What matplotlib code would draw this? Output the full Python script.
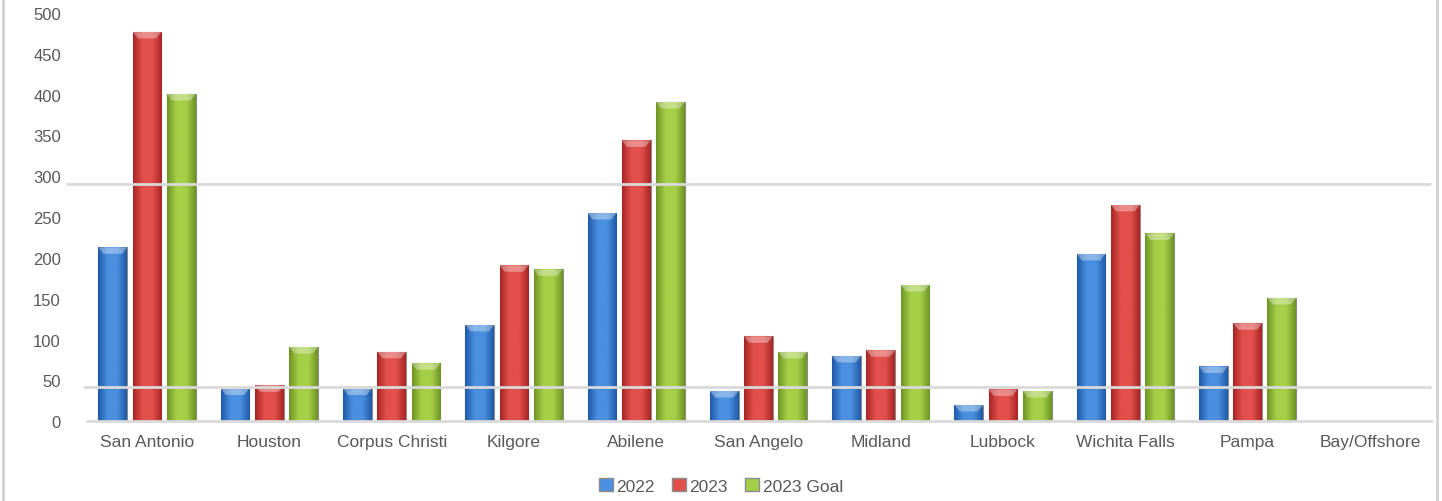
import numpy as np
import matplotlib.pyplot as plt
from matplotlib.colors import LinearSegmentedColormap
from matplotlib.lines import Line2D
from matplotlib.patches import Patch

plt.rcParams["font.family"] = ["Liberation Sans", "DejaVu Sans"]

# data
districts = ["San Antonio", "Houston", "Corpus Christi", "Kilgore", "Abilene", "San Angelo",
             "Midland", "Lubbock", "Wichita Falls", "Pampa", "Bay/Offshore"]
y2022 = [213, 40, 40, 118, 255, 37, 80, 20, 205, 67, 0]
y2023 = [477, 44, 85, 191, 344, 104, 87, 39, 265, 120, 0]
goal2023 = [401, 91, 71, 186, 391, 85, 167, 37, 230, 151, 0]
series_names = ["2022", "2023", "2023 Goal"]
yticks = [0, 50, 100, 150, 200, 250, 300, 350, 400, 450, 500]
grid_vals = [290, 42]  # the two stray grid lines in the original

colors = [("#1f5aa8", "#4a8fe0", "#1b4f96"),
          ("#a82624", "#e2504c", "#9a2220"),
          ("#6f9424", "#a6cf48", "#65881f")]

fig = plt.figure(figsize=(14.42, 5.02), dpi=100)
ax = fig.add_axes([0.0596, 0.159, 0.9328, 0.813])

x = np.arange(len(districts))
w = 0.235
step = 0.28
series = [y2022, y2023, goal2023]
for i, vals in enumerate(series):
    dark, light, edge = colors[i]
    cmap = LinearSegmentedColormap.from_list("g", [dark, light, light, dark])
    bars = ax.bar(x + (i - 1) * step, vals, width=w, color=light, edgecolor="#8c8c8c",
                  linewidth=0.8, zorder=3)
    grad = np.linspace(0, 1, 64).reshape(1, -1)
    for b in bars:
        if b.get_height() <= 0:
            continue
        x0, h = b.get_x(), b.get_height()
        im = ax.imshow(grad, cmap=cmap, aspect="auto", extent=[x0, x0 + w, 0, h],
                       zorder=3.5, interpolation="bicubic")
        im.set_clip_path(b)
        # light cap on top of each bar
        ax.fill([x0, x0 + w, x0 + w * 0.82, x0 + w * 0.18], [h, h, h - 8, h - 8],
                color="white", alpha=0.35, lw=0, zorder=4)

ax.set_xlim(-0.5, 10.5)
ax.set_ylim(0, 500)
ax.hlines(grid_vals[0], -0.66, 10.5, color="#d9d9d9", lw=2, zorder=5, clip_on=False)
ax.hlines(grid_vals[1], -0.52, 10.5, color="#d9d9d9", lw=2, zorder=5, clip_on=False)
ax.hlines(0, -0.5, 10.52, color="#d9d9d9", lw=2, zorder=5, clip_on=False)

for s in ax.spines.values():
    s.set_visible(False)
ax.set_yticks(yticks)
ax.set_yticklabels([str(v) for v in yticks])
ax.set_xticks(x)
ax.set_xticklabels(districts)
ax.tick_params(axis="y", length=0, labelsize=12, colors="#595959", pad=18)
ax.tick_params(axis="x", length=0, labelsize=12.5, colors="#595959", pad=9)
ax.set_facecolor("none")

# title, cut off at the top edge as in the original (only descenders show)
fig.text(0.51, 1 + 5 / 502, "by Year, Well Plugging", ha="center", va="baseline",
         fontsize=18, color="#595959")

handles = [Patch(facecolor=c[1], edgecolor="#8c8c8c") for c in colors]
fig.legend(handles, series_names, loc="center", bbox_to_anchor=(0.5, 1 - 487 / 502),
           ncol=3, frameon=False, fontsize=12.5, handlelength=0.8, handleheight=0.8,
           handletextpad=0.2, columnspacing=1.0, labelcolor="#595959")

# chart border
fig.add_artist(Line2D([3 / 1442, 3 / 1442], [0, 1], color="#d0d0d0", lw=2))
fig.add_artist(Line2D([1437 / 1442, 1437 / 1442], [0, 1], color="#d0d0d0", lw=2))

fig.savefig("out.png", dpi=100)
